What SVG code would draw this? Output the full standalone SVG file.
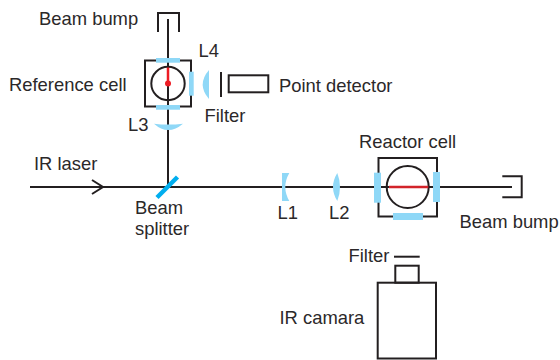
<svg xmlns="http://www.w3.org/2000/svg" width="560" height="360" viewBox="0 0 560 360">
<style>
text{font-family:"Liberation Sans",Arial,sans-serif;font-size:18.4px;fill:#2b2829}
.l{fill:none;stroke:#231f20;stroke-width:2}
.b{fill:#8fd8f7}
</style>
<rect width="560" height="360" fill="#fff"/>
<g id="connectors">
<path class="l" d="M30 187H512M168 19V187"/>
<path class="l" d="M92 180L103 187L92 194"/>
</g>
<g id="beam-bump-top"><path class="l" d="M158 32V13H179V32"/><text x="39" y="25">Beam bump</text></g>
<g id="reference-cell">
<rect class="l" x="145" y="60.500" width="46" height="46"/>
<circle class="l" cx="168" cy="83.500" r="16.700"/>
<path d="M168 67.500V83.500" stroke="#ed1c24" stroke-width="2.500"/>
<circle cx="168" cy="83.500" r="3" fill="#ed1c24"/>
<rect class="b" x="156" y="58" width="24" height="4.700"/>
<rect class="b" x="156" y="105" width="24" height="4.700"/>
<rect class="b" x="189" y="71.700" width="4.700" height="24"/>
<text x="9" y="91">Reference cell</text>
</g>
<g id="L4"><path class="b" d="M209 70Q196.400 84.500 209 99Z"/><text x="198.500" y="57">L4</text></g>
<g id="L3"><path class="b" d="M154 123.700Q168 125.500 183 123.700Q168 136.300 154 123.700Z"/><text x="128" y="130.500">L3</text></g>
<g id="filter-top"><path class="l" d="M221 72V97"/><text x="204.500" y="121.500">Filter</text></g>
<g id="point-detector"><rect class="l" x="228.700" y="75.300" width="39.600" height="17"/><text x="279" y="92.300">Point detector</text></g>
<g id="ir-laser"><text x="34" y="170">IR laser</text></g>
<g id="beam-splitter"><path d="M157 197.500L177.500 177" stroke="#00aeef" stroke-width="4.500" fill="none"/><text x="135" y="214">Beam</text><text x="135" y="234.500">splitter</text></g>
<g id="L1"><path class="b" d="M282 173H289.300Q281.300 187 289.300 201H282Z"/><text x="277.500" y="219.300">L1</text></g>
<g id="L2"><path class="b" d="M337.300 173Q342.700 187 337.300 201Q328.700 187 337.300 173Z"/><text x="329" y="219.300">L2</text></g>
<g id="reactor-cell">
<rect class="l" x="378.500" y="158" width="58.500" height="58.500"/>
<circle class="l" cx="407.700" cy="187" r="21"/>
<path d="M389 187H428.300" stroke="#d2232a" stroke-width="2.500"/>
<rect class="b" x="374" y="172.700" width="7" height="30"/>
<rect class="b" x="433" y="172" width="7" height="30"/>
<rect class="b" x="393" y="213" width="30" height="7"/>
<text x="359" y="148.300">Reactor cell</text>
</g>
<g id="beam-bump-right"><path class="l" d="M502.300 176.300H521.700V197.300H502.300"/><text x="459.500" y="228.300">Beam bump</text></g>
<g id="ir-camera">
<path class="l" d="M394 256.700H419.700"/>
<rect class="l" x="395.300" y="265.700" width="23.400" height="17"/>
<rect class="l" x="377.700" y="282.700" width="58.300" height="75.800"/>
<text x="348.500" y="261.700">Filter</text>
<text x="279.500" y="324">IR camara</text>
</g>
</svg>
